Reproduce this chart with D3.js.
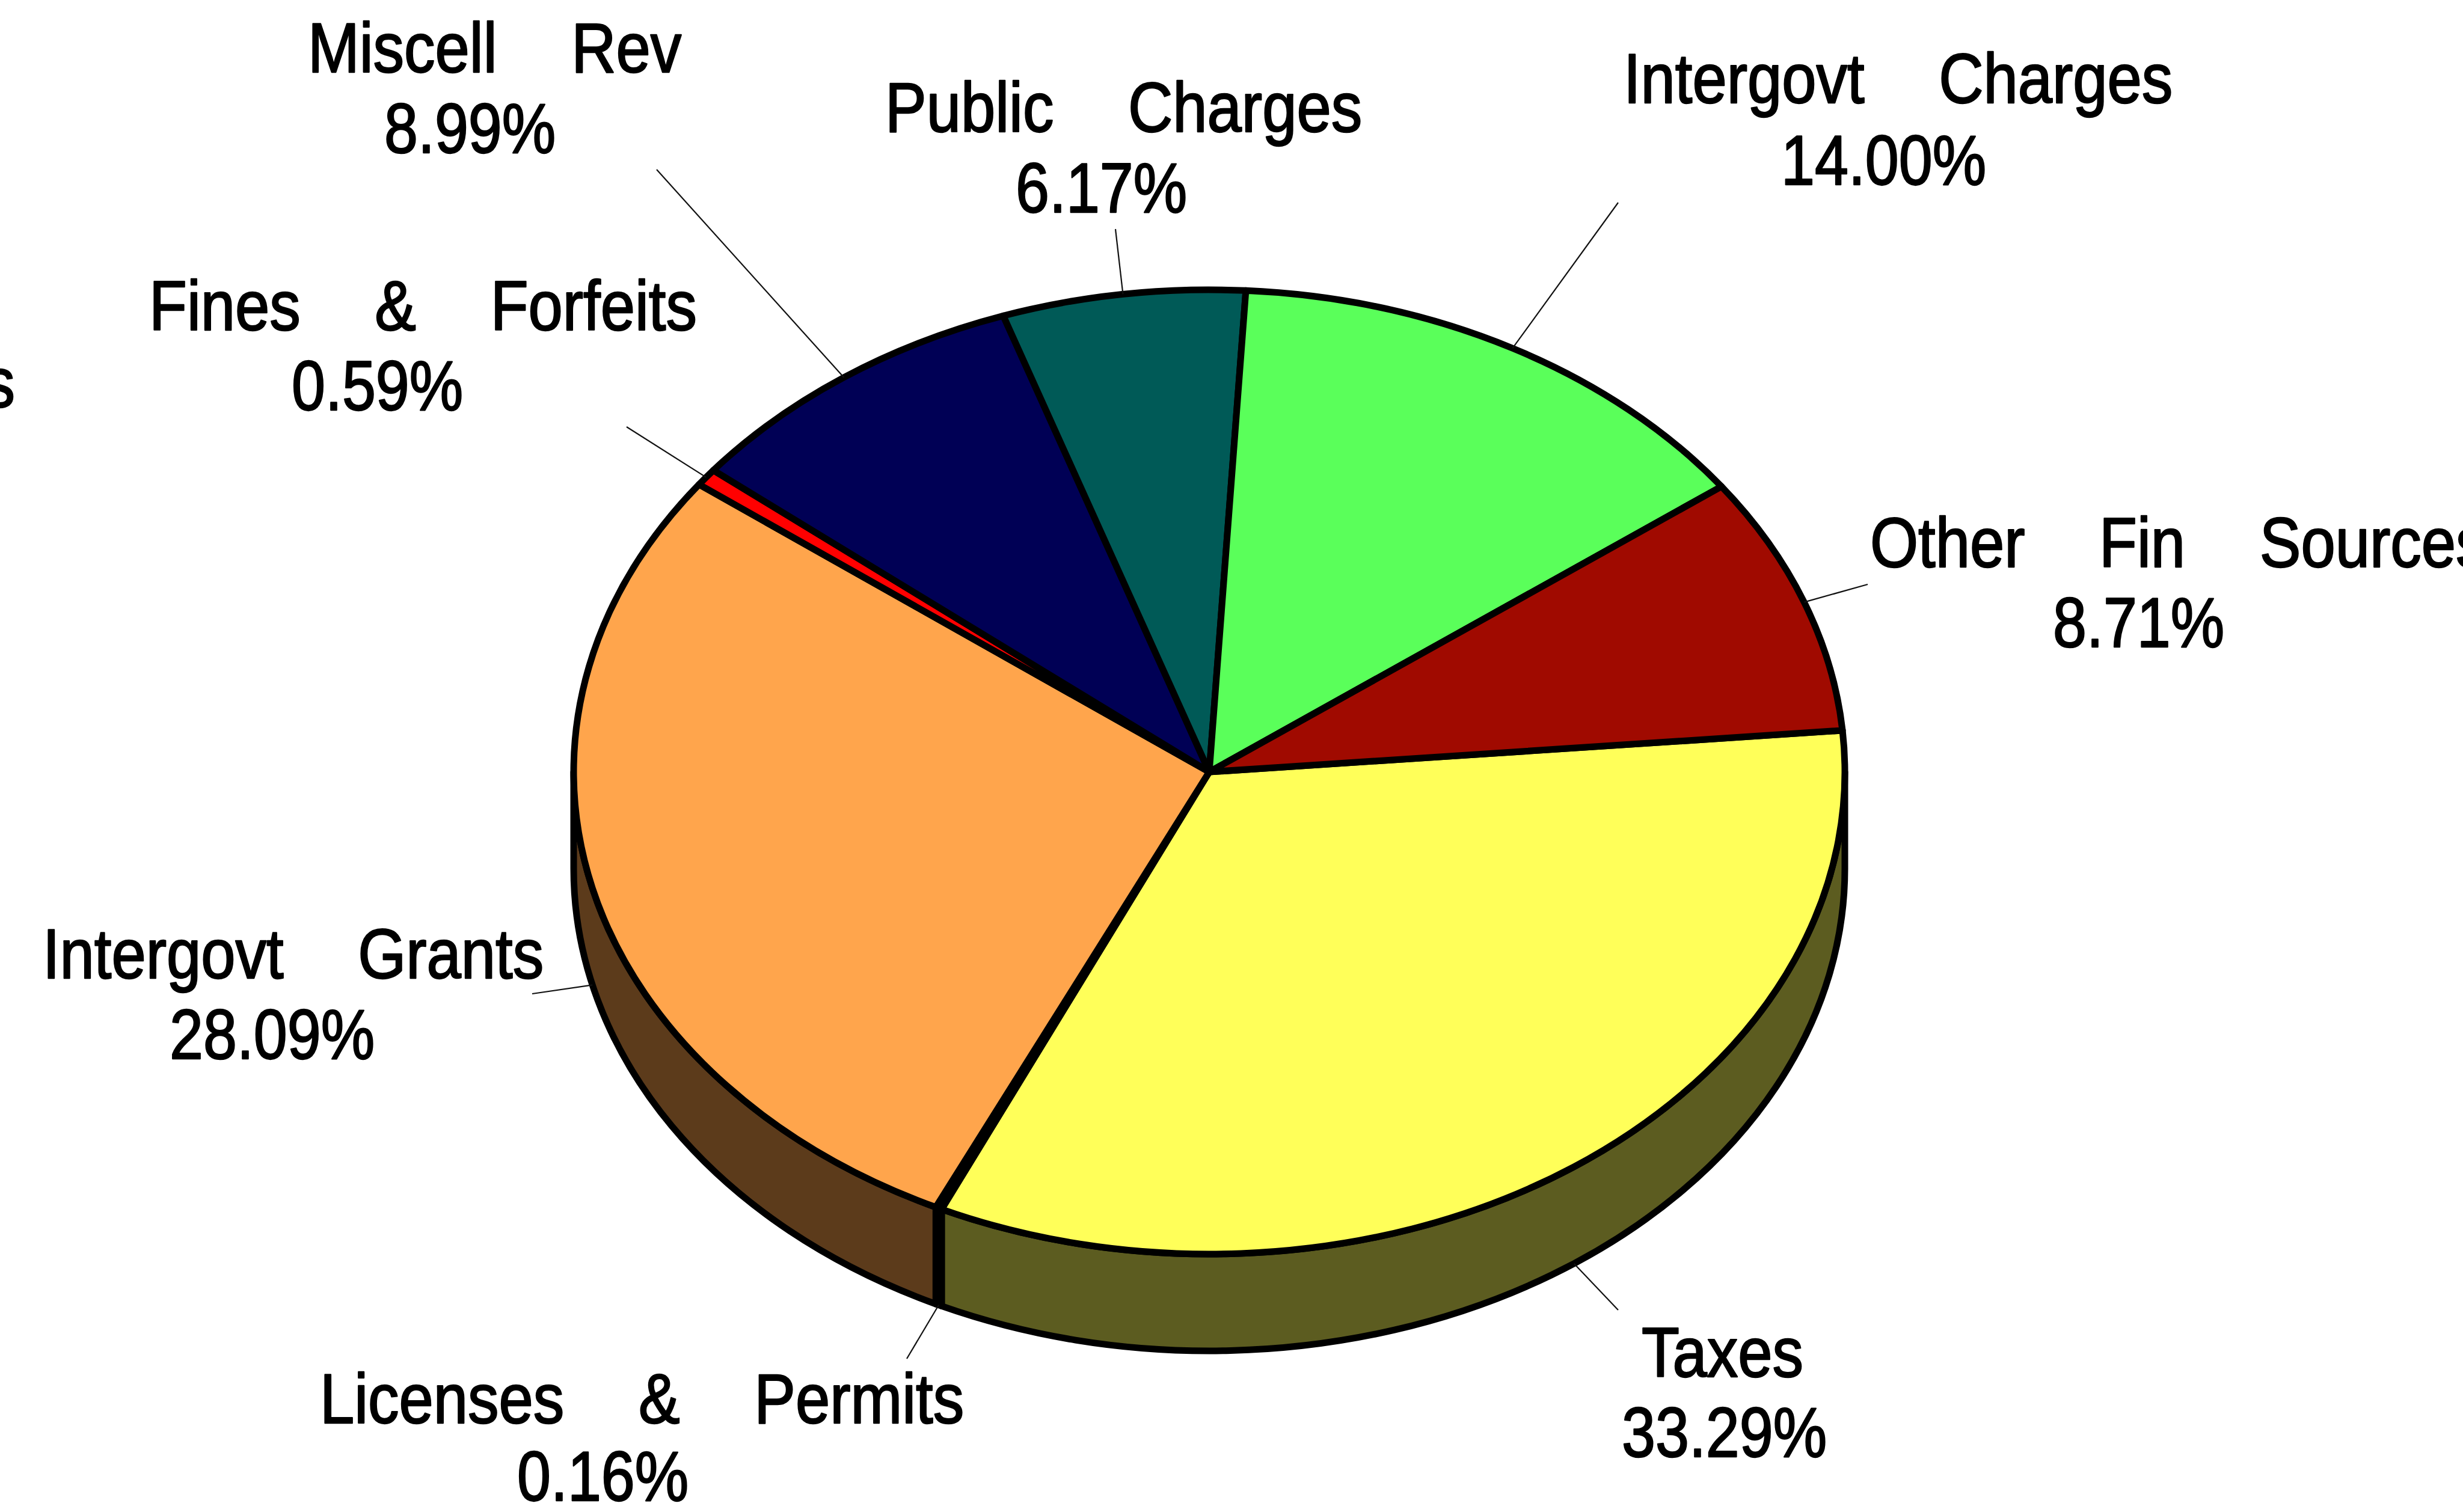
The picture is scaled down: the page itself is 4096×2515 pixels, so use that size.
<!DOCTYPE html>
<html>
<head>
<meta charset="utf-8">
<script src="https://cdn.jsdelivr.net/npm/d3@7"></script>
<style>
  html, body { margin: 0; padding: 0; background: #ffffff; overflow: hidden; }
  svg { display: block; }
</style>
</head>
<body>
<svg id="chart" width="4096" height="2515"></svg>
<script>
// Revenue sources, in drawing order (clockwise)
const categories = [
  "Taxes", "Licenses & Permits", "Intergovt Grants", "Fines & Forfeits",
  "Special Assessments", "Miscell Rev", "Public Charges", "Intergovt Charges",
  "Other Fin Sources"
];
const percentages = [33.29, 0.16, 28.09, 0.59, 0.00, 8.99, 6.17, 14.00, 8.71];
const percentLabels = ["33.29%", "0.16%", "28.09%", "0.59%", "0.00%", "8.99%", "6.17%", "14.00%", "8.71%"];
const sliceColors = [
  "#ffff59", "#2b0a33", "#ffa54c", "#ff0000", "#7f7f7f",
  "#000055", "#005a57", "#5aff5a", "#a00a00"
];

// ---- layout ----
const W = 4096, H = 2515;
const cx = 2011, cy = 1284;     // centre of the top face
const rx = 1057, ry = 802;      // top face ellipse radii
const depth = 161;              // thickness of the disc
const startDeg = 85.06;         // where the first slice begins (clockwise from 12 o'clock)
const sideShade = 0.36;         // wall colour = top colour * sideShade
const outline = 11;
const fontSize = 117;
const nameSqueeze = 0.88;
const pctSqueeze = 0.86;
const wordGap = 108;

// label placement: name line (x, y), percent line (px, py), leader end (lx, ly)
const labelLayout = {
  "Taxes":               { x: 2730, y: 2290, px: 2697, py: 2423, lx: 2691, ly: 2179 },
  "Licenses & Permits":  { x: 532,  y: 2367, px: 860,  py: 2496, lx: 1508, ly: 2260 },
  "Intergovt Grants":    { x: 71,   y: 1627, px: 282,  py: 1761, lx: 885,  ly: 1653 },
  "Fines & Forfeits":    { x: 248,  y: 549,  px: 485,  py: 682,  lx: 1042, ly: 710 },
  "Special Assessments": { x: 25,   y: 677,  anchor: "end", noLeader: true, noPct: true },
  "Miscell Rev":         { x: 512,  y: 120,  px: 639,  py: 254,  lx: 1092, ly: 282 },
  "Public Charges":      { x: 1472, y: 219,  px: 1689, py: 353,  lx: 1855, ly: 381 },
  "Intergovt Charges":   { x: 2700, y: 171,  px: 2962, py: 307,  lx: 2691, ly: 337 },
  "Other Fin Sources":   { x: 3110, y: 943,  px: 3414, py: 1076, lx: 3106, ly: 972 }
};

const rows = categories.map((name, i) => ({
  name, value: percentages[i], pct: percentLabels[i], color: sliceColors[i]
}));

const toRad = d3.scaleLinear().domain([0, 360]).range([0, 2 * Math.PI]);
const a0 = toRad(startDeg);

const pie = d3.pie()
  .sort(null)
  .value(d => d.value)
  .startAngle(a0)
  .endAngle(a0 + 2 * Math.PI);

const arcs = pie(rows);

// point on the ellipse for angle a (clockwise from top), optionally dropped by dy
function P(a, dy = 0) {
  return [cx + rx * Math.sin(a), cy - ry * Math.cos(a) + dy];
}
function topPath(s, e) {
  const p0 = P(s), p1 = P(e);
  const large = (e - s) > Math.PI ? 1 : 0;
  return `M${cx},${cy}L${p0[0]},${p0[1]}A${rx},${ry} 0 ${large} 1 ${p1[0]},${p1[1]}Z`;
}
function sidePath(s, e) {
  const p0 = P(s), p1 = P(e), q1 = P(e, depth), q0 = P(s, depth);
  const large = (e - s) > Math.PI ? 1 : 0;
  return `M${p0[0]},${p0[1]}A${rx},${ry} 0 ${large} 1 ${p1[0]},${p1[1]}` +
         `L${q1[0]},${q1[1]}A${rx},${ry} 0 ${large} 0 ${q0[0]},${q0[1]}Z`;
}
function shade(c) {
  const r = d3.rgb(c);
  return d3.rgb(r.r * sideShade, r.g * sideShade, r.b * sideShade).formatHex();
}

const svg = d3.select("#chart");
svg.append("rect").attr("width", W).attr("height", H).attr("fill", "#ffffff");

// ---- visible walls (front half: 90deg .. 270deg) ----
const frontRanges = [[Math.PI / 2, 3 * Math.PI / 2], [Math.PI / 2 + 2 * Math.PI, 3 * Math.PI / 2 + 2 * Math.PI]];
const walls = [];
arcs.forEach(d => {
  if (d.endAngle - d.startAngle <= 0) return;
  frontRanges.forEach(([lo, hi]) => {
    const s = Math.max(d.startAngle, lo), e = Math.min(d.endAngle, hi);
    if (e > s) walls.push({ s, e, color: shade(d.data.color) });
  });
});

svg.append("g").selectAll("path")
  .data(walls)
  .join("path")
  .attr("d", w => sidePath(w.s, w.e))
  .attr("fill", w => w.color)
  .attr("stroke", "#000")
  .attr("stroke-width", outline)
  .attr("stroke-linejoin", "round");

// ---- top faces ----
svg.append("g").selectAll("path")
  .data(arcs.filter(d => d.endAngle > d.startAngle))
  .join("path")
  .attr("d", d => topPath(d.startAngle, d.endAngle))
  .attr("fill", d => d.data.color)
  .attr("stroke", "#000")
  .attr("stroke-width", outline)
  .attr("stroke-linejoin", "round");

// ---- leader lines ----
svg.append("g").selectAll("line")
  .data(arcs.filter(d => !labelLayout[d.data.name].noLeader))
  .join("line")
  .each(function (d) {
    const m = (d.startAngle + d.endAngle) / 2;
    const front = Math.cos(m) < 0;
    const p = P(m, front ? depth : 0);
    const L = labelLayout[d.data.name];
    d3.select(this)
      .attr("x1", p[0]).attr("y1", p[1])
      .attr("x2", L.lx).attr("y2", L.ly);
  })
  .attr("stroke", "#111")
  .attr("stroke-width", 2.2);

// ---- labels ----
const lab = svg.append("g")
  .attr("font-family", "'Liberation Sans', Arial, Helvetica, sans-serif")
  .attr("font-size", fontSize)
  .attr("fill", "#000")
  .attr("stroke", "#000")
  .attr("stroke-width", 2.4)
  .attr("stroke-linejoin", "round");

arcs.forEach(d => {
  const L = labelLayout[d.data.name];
  const anchor = L.anchor || "start";
  lab.append("text")
    .attr("transform", `translate(${L.x},${L.y}) scale(${nameSqueeze},1)`)
    .attr("text-anchor", anchor)
    .style("word-spacing", wordGap + "px")
    .text(d.data.name);
  if (!L.noPct) {
    lab.append("text")
      .attr("transform", `translate(${L.px},${L.py}) scale(${pctSqueeze},1)`)
      .attr("text-anchor", anchor)
      .text(d.data.pct);
  }
});
</script>
</body>
</html>
